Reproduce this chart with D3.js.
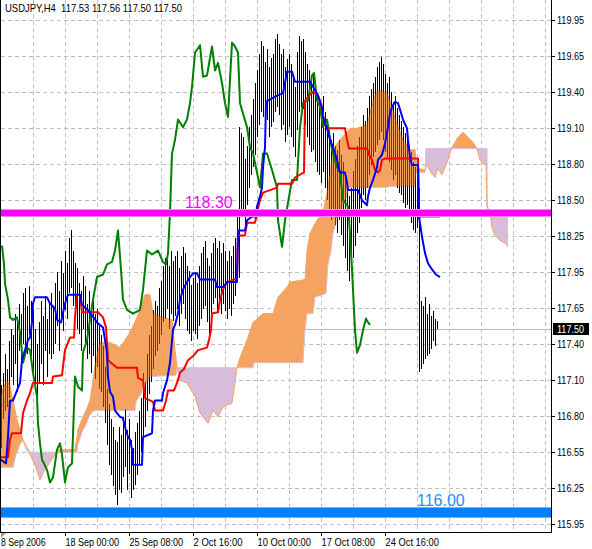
<!DOCTYPE html>
<html><head><meta charset="utf-8">
<script src="https://cdn.jsdelivr.net/npm/d3@7/dist/d3.min.js"></script>
<style>body{margin:0;background:#fff}svg{display:block}</style>
</head><body>
<svg id="c" width="592" height="549"></svg>
<script>
// ---------------- DATA ----------------
const titleText = "USDJPY,H4  117.53 117.56 117.50 117.50";
const yTickLabels = ["119.95","119.65","119.40","119.10","118.80","118.50","118.25","117.95","117.65","117.40","117.10","116.80","116.55","116.25","115.95"];
const xTickLabels = ["8 Sep 2006","18 Sep 00:00","25 Sep 08:00","2 Oct 16:00","10 Oct 00:00","17 Oct 08:00","24 Oct 16:00"];
const xTickBars = [0,32,64,96,128,160,192];
const lastPrice = 117.50;
const levelValues = [118.42, 116.04];
const levelLabels = ["118.30", "116.00"];

const barHigh = [
117.05,117.15,117.30,117.18,117.40,117.50,117.45,117.62,117.55,117.70,
117.62,117.78,117.82,117.68,117.84,117.72,117.66,117.50,117.38,117.55,
117.72,117.60,117.76,117.58,117.70,117.78,117.68,117.86,117.95,117.80,
118.04,117.94,118.12,118.02,118.22,118.28,118.12,118.02,117.98,117.86,
117.80,117.92,117.84,117.70,117.80,117.60,117.72,117.62,117.66,117.52,
117.45,117.36,117.20,117.02,116.90,116.78,116.72,116.62,116.60,116.72,
116.66,116.80,116.86,116.70,116.78,116.62,116.55,116.68,116.75,116.85,
116.95,117.15,117.08,117.30,117.45,117.52,117.65,117.72,117.68,117.82,
117.88,118.00,118.06,118.10,118.00,118.12,118.04,118.08,118.12,117.98,
118.08,118.15,118.10,118.00,117.96,117.85,117.90,117.95,117.86,118.00,
118.10,118.15,118.20,118.06,118.00,118.10,118.18,118.22,118.14,118.20,
118.10,118.18,118.12,118.04,118.12,118.08,118.16,118.22,118.40,119.10,
119.05,119.02,118.85,118.95,119.10,119.20,119.32,119.45,119.55,119.68,
119.78,119.74,119.62,119.72,119.58,119.65,119.68,119.80,119.84,119.76,
119.68,119.72,119.58,119.64,119.68,119.60,119.50,119.42,119.70,119.82,
119.78,119.80,119.70,119.60,119.55,119.48,119.52,119.40,119.35,119.30,
119.28,119.35,119.22,119.15,119.08,119.00,119.05,118.95,118.92,119.00,
118.88,118.82,118.70,118.62,118.55,118.62,118.75,118.85,118.95,119.02,
119.10,119.20,119.15,119.25,119.35,119.40,119.45,119.50,119.58,119.62,
119.66,119.60,119.52,119.45,119.50,119.38,119.30,119.35,119.25,119.20,
119.15,119.10,119.05,119.02,118.95,118.90,118.82,118.78,118.74,118.62,
117.72,117.68,117.75,117.62,117.70,117.60,117.64,117.58,117.56];

const barLow = [
116.55,116.78,116.85,116.88,116.95,117.12,117.05,117.22,117.00,117.32,
117.25,117.38,117.35,117.30,117.45,117.28,117.10,117.05,116.80,117.08,
117.22,117.05,117.32,117.12,117.30,117.26,117.30,117.38,117.52,117.32,
117.55,117.48,117.65,117.58,117.78,117.82,117.68,117.60,117.50,117.46,
117.32,117.50,117.38,117.26,117.30,117.15,117.28,117.10,117.20,117.02,
117.00,116.88,116.75,116.58,116.42,116.34,116.25,116.18,116.10,116.22,
116.20,116.32,116.40,116.22,116.35,116.16,116.22,116.26,116.34,116.42,
116.52,116.65,116.72,116.85,116.98,117.08,117.18,117.28,117.32,117.38,
117.45,117.55,117.58,117.66,117.50,117.62,117.56,117.60,117.66,117.52,
117.62,117.70,117.58,117.48,117.46,117.40,117.48,117.46,117.42,117.52,
117.58,117.66,117.68,117.55,117.46,117.62,117.70,117.74,117.64,117.72,
117.62,117.70,117.64,117.58,117.66,117.60,117.70,117.76,117.88,117.90,
118.40,118.42,118.32,118.48,118.62,118.72,118.78,118.88,119.02,119.12,
119.22,119.18,119.08,119.16,119.02,119.10,119.14,119.22,119.26,119.20,
119.08,119.12,118.98,119.04,119.10,119.02,118.94,118.86,119.08,119.22,
119.26,119.24,119.12,119.02,118.96,118.90,118.92,118.82,118.74,118.72,
118.66,118.74,118.62,118.52,118.44,118.36,118.42,118.32,118.26,118.36,
118.24,118.16,118.06,117.96,117.88,117.96,118.06,118.16,118.26,118.34,
118.46,118.56,118.52,118.62,118.72,118.80,118.86,118.90,118.96,119.00,
119.06,119.00,118.90,118.86,118.82,118.76,118.68,118.72,118.62,118.58,
118.56,118.50,118.46,118.48,118.42,118.34,118.28,118.26,118.30,117.16,
117.18,117.22,117.26,117.28,117.30,117.34,117.40,117.36,117.50];

// [bar index, price]
const tenkan = [[0,116.48],[3.5,116.48],[4.5,116.62],[5.5,116.67],[10,116.67],[11,116.83],[13,116.93],[14.5,116.99],[16,117.07],[25.5,117.07],[26,117.12],[30.5,117.13],[31,117.20],[32,117.33],[34.5,117.43],[36.5,117.43],[37,117.59],[38,117.77],[39.5,117.77],[40.5,117.63],[48.5,117.63],[51,117.59],[52.5,117.51],[53.5,117.25],[58,117.19],[68,117.19],[68.5,117.11],[71,117.09],[72,116.95],[76,116.92],[77,116.85],[81,116.85],[82.5,116.93],[83.5,117.01],[86.5,117.01],[88,117.07],[89.5,117.15],[91.5,117.18],[93.5,117.25],[96.5,117.29],[98.5,117.33],[103,117.35],[104,117.41],[105,117.49],[105.5,117.62],[108.5,117.63],[109.5,117.73],[111,117.81],[113,117.87],[118,117.90],[118.5,118.24],[122,118.24],[123,118.34],[127,118.34],[128,118.42],[129.5,118.52],[131,118.58],[138,118.62],[138.5,118.65],[145.5,118.65],[147,118.70],[151.5,118.74],[152,119.31],[153.5,119.34],[156,119.38],[158.5,119.35],[160.5,119.24],[162,119.12],[163,119.09],[172,119.09],[173,119.00],[174,118.93],[183,118.93],[184,118.88],[185.5,118.84],[187,118.76],[188.5,118.74],[189.5,118.76],[190.5,118.84],[192,118.85],[208.5,118.85],[209,118.39],[219.5,118.39]];

const kijun = [[0,116.46],[2.5,116.43],[3.5,116.64],[4.5,116.93],[6,116.93],[8,117.01],[9.5,117.07],[10.5,117.25],[12,117.33],[13.5,117.41],[14.5,117.43],[15.5,117.55],[16,117.70],[17,117.75],[23,117.75],[24.5,117.70],[27,117.66],[28,117.57],[30,117.55],[32,117.70],[33.5,117.77],[39.5,117.77],[40.5,117.69],[44.5,117.63],[48,117.55],[51,117.51],[53,117.31],[53.5,117.12],[54.5,117.00],[56,116.96],[57,116.85],[59.5,116.80],[61,116.79],[62,116.72],[63.5,116.64],[64.5,116.62],[65.5,116.54],[66,116.42],[70.5,116.42],[71,116.64],[75.5,116.67],[76,116.85],[77,116.93],[80.5,116.93],[81,116.99],[83,117.09],[84.5,117.23],[86,117.49],[87,117.53],[88.5,117.62],[89.5,117.73],[91,117.81],[93,117.87],[94.5,117.91],[96,117.94],[98,117.94],[99.5,117.89],[107,117.89],[108,117.83],[111,117.83],[113,117.87],[118,117.87],[118.5,118.28],[122,118.28],[123,118.36],[125.5,118.39],[127.5,118.39],[128,118.47],[129.5,118.55],[130.5,118.62],[131,118.78],[132,118.94],[132.5,119.30],[133.5,119.31],[138,119.35],[141,119.37],[142,119.45],[143,119.54],[145.5,119.54],[147,119.46],[154.5,119.46],[156,119.42],[158.5,119.35],[160.5,119.26],[161,119.18],[163,119.09],[164.5,119.00],[166,118.94],[168,118.84],[169.5,118.74],[172,118.74],[173,118.66],[173.5,118.60],[178.5,118.60],[180.5,118.52],[183,118.48],[183.5,118.55],[184.5,118.62],[186,118.68],[188,118.78],[188.5,118.84],[190.5,118.88],[192,118.97],[193.5,119.10],[194.5,119.21],[195.5,119.26],[197,119.30],[198.5,119.29],[199.5,119.24],[201,119.16],[203,119.09],[203.5,119.00],[204.5,118.86],[205.5,118.80],[208.5,118.80],[209,118.39],[210.5,118.23],[212,118.10],[213.5,118.02],[215.5,117.97],[217.5,117.93],[219.5,117.91]];

const chinkou = [[0.5,118.16],[1.5,118.01],[2,117.86],[3.5,117.73],[4.5,117.59],[6,117.57],[8,117.59],[9.5,117.47],[11,117.23],[13,117.35],[14.5,117.33],[16,117.15],[18,116.96],[18.5,116.75],[19.5,116.59],[20.5,116.46],[21.5,116.43],[23,116.38],[24.5,116.28],[26,116.32],[28,116.54],[29.5,116.59],[30.5,116.50],[32,116.28],[33.5,116.40],[35.5,116.43],[37,117.12],[38.5,117.04],[40.5,117.01],[41,117.31],[43,117.41],[44.5,117.57],[46,117.73],[48,117.91],[51,117.93],[53,118.01],[55.5,118.03],[57,118.12],[58.5,118.28],[60,117.97],[61,117.73],[63,117.65],[66,117.62],[69.5,117.65],[71,117.81],[73,118.12],[75.5,118.09],[78.5,118.12],[81,118.03],[82.5,118.01],[83.5,118.10],[84.5,118.42],[85.5,118.89],[87,119.00],[88.5,119.16],[91,119.10],[93,119.16],[94.5,119.29],[95.5,119.42],[97,119.69],[99.5,119.75],[101,119.50],[103,119.51],[105.5,119.74],[107,119.55],[108.5,119.61],[110.5,119.45],[112,119.29],[113.5,119.18],[115.5,119.77],[117,119.74],[118.5,119.69],[119.5,119.29],[123,119.10],[124.5,118.94],[126,118.89],[128,118.74],[129.5,118.62],[131,118.89],[133,118.89],[135.5,118.76],[138,118.62],[138.5,118.36],[140.5,118.15],[142,118.36],[143.5,118.50],[145.5,118.68],[148,118.68],[149.5,119.10],[151,119.29],[153.5,119.31],[155.5,119.51],[156.5,119.53],[158,119.31],[159.5,119.26],[161,119.10],[163,119.16],[165.5,118.92],[168,118.78],[169.5,118.74],[171,118.52],[173.5,118.47],[174.5,118.26],[175.5,117.97],[177,117.49],[178,117.31],[179.5,117.37],[181,117.49],[182.5,117.58],[183.5,117.55],[184.5,117.53]];

const spanA = [[0,116.97],[1.5,117.05],[3,117.09],[4.5,117.05],[6,116.93],[8,116.78],[9.5,116.70],[11,116.62],[12.5,116.55],[14.5,116.50],[17,116.42],[19.5,116.30],[22,116.38],[24.5,116.44],[27,116.50],[28,116.54],[37,116.54],[38.5,116.70],[40.5,116.78],[42.5,116.85],[44.5,116.93],[46,117.09],[47,117.21],[48.5,117.33],[49.5,117.39],[54.5,117.39],[57,117.37],[59.5,117.35],[62,117.41],[64.5,117.47],[68,117.59],[72,117.77],[74.5,117.77],[76,117.62],[81,117.59],[85.5,117.57],[87,117.33],[88,117.20],[89.5,117.09],[93,117.07],[97,116.96],[99.5,116.83],[102,116.78],[103.5,116.75],[106,116.85],[108.5,116.80],[111,116.88],[115.5,116.91],[117,117.07],[118,117.19],[119.5,117.27],[123,117.41],[126,117.55],[131,117.62],[136,117.62],[138.5,117.75],[143,117.83],[144.5,117.87],[152,117.89],[153,118.12],[154.5,118.26],[158,118.36],[161,118.42],[163,118.58],[164.5,118.74],[166,118.92],[169.5,119.00],[174.5,119.09],[178,119.09],[183,119.12],[186,119.31],[188,119.39],[189.5,119.39],[193,119.37],[195.5,119.26],[198,119.13],[201,119.00],[204.5,118.92],[207,118.92],[208,118.78],[209.5,118.77],[212,118.76],[213,118.80],[215,118.74],[217,118.70],[218.5,118.77],[220.5,118.72],[222,118.78],[223.5,118.84],[225.5,118.94],[228.5,119.02],[231,119.06],[233.5,119.02],[236,118.98],[238,118.93],[239.5,118.84],[241,118.81],[242.5,118.80],[243,118.47],[244.5,118.43],[245.5,118.30],[247,118.24],[249.5,118.20],[252,118.18],[253.5,118.15]];

const spanB = [[0,116.40],[6,116.40],[7.5,116.50],[9.5,116.58],[11,116.62],[13,116.56],[14.5,116.52],[38,116.52],[38.5,116.58],[40.5,116.68],[42.5,116.74],[44.5,116.82],[46.5,116.85],[67,116.85],[67.5,116.92],[69.5,116.97],[72,117.05],[74.5,117.12],[87.5,117.13],[88,117.19],[126,117.19],[126.5,117.23],[151,117.23],[152,117.49],[153,117.62],[156,117.62],[157,117.75],[162.5,117.78],[163.5,118.01],[165,118.12],[166,118.26],[168,118.36],[171,118.47],[173,118.56],[174,118.62],[193.5,118.62],[194,118.63],[207,118.63],[207.5,118.74],[212,118.74],[212.5,118.93],[243,118.93],[243.1,118.44],[253.5,118.43]];

// ---------------- DRAW ----------------
const W = 592, H = 549, PL = 1, PR = 551, PB = 532;
const FONT = "'Liberation Sans', Arial, sans-serif";
const svg = d3.select("#c");
const x = d3.scaleLinear().domain([0, 275]).range([PL, PR]);
const y = d3.scaleLinear().domain([115.95, 119.95]).range([524, 20]);

svg.append("rect").attr("width", W).attr("height", H).attr("fill", "#fff");

const defs = svg.append("defs");
defs.append("clipPath").attr("id", "plot").append("rect")
  .attr("x", PL).attr("y", 0).attr("width", PR - PL).attr("height", PB);
const pat = defs.append("pattern").attr("id", "thistlePat").attr("patternUnits", "userSpaceOnUse")
  .attr("width", 4).attr("height", 4);
pat.append("rect").attr("width", 4).attr("height", 4).attr("fill", "#D8C0D9");
pat.append("rect").attr("x", 0).attr("y", 0).attr("width", 1).attr("height", 1).attr("fill", "#D9A3D9");
pat.append("rect").attr("x", 2).attr("y", 2).attr("width", 1).attr("height", 1).attr("fill", "#D9A3D9");

const aboveArea = d3.area().x(d => x(d[0])).y0(0).y1(d => y(d[1]));
const belowArea = d3.area().x(d => x(d[0])).y0(PB).y1(d => y(d[1]));
defs.append("clipPath").attr("id", "clipAboveB").append("path").attr("d", aboveArea(spanB));
defs.append("clipPath").attr("id", "clipBelowB").append("path").attr("d", belowArea(spanB));
defs.append("clipPath").attr("id", "clipBelowA").append("path").attr("d", belowArea(spanA));

const g = svg.append("g").attr("clip-path", "url(#plot)");

// grid
const nT = yTickLabels.length;
const tTop = parseFloat(yTickLabels[0]), tBot = parseFloat(yTickLabels[nT - 1]);
const tickVals = d3.range(nT).map(k => tTop - k * (tTop - tBot) / (nT - 1));
const grid = g.append("g").attr("stroke", "#C0C0C0").attr("stroke-dasharray", "4,3")
  .attr("shape-rendering", "crispEdges");
grid.selectAll("line.h").data(tickVals).join("line").attr("class", "h")
  .attr("x1", PL).attr("x2", PR)
  .attr("y1", d => Math.round(y(d)) + 0.5).attr("y2", d => Math.round(y(d)) + 0.5);
grid.selectAll("line.v").data(d3.range(16, 276, 16)).join("line").attr("class", "v")
  .attr("x1", d => Math.round(x(d)) + 0.5).attr("x2", d => Math.round(x(d)) + 0.5)
  .attr("y1", 0).attr("y2", PB);

// current price line
g.append("line").attr("x1", PL).attr("x2", PR)
  .attr("y1", Math.round(y(lastPrice)) + 0.5).attr("y2", Math.round(y(lastPrice)) + 0.5)
  .attr("stroke", "#B8B8B8").attr("shape-rendering", "crispEdges");

// cloud
g.append("path").attr("d", belowArea(spanA)).attr("fill", "#F4A460").attr("clip-path", "url(#clipAboveB)");
g.append("path").attr("d", aboveArea(spanA)).attr("fill", "url(#thistlePat)").attr("clip-path", "url(#clipBelowB)");
const ln = d3.line().x(d => x(d[0])).y(d => y(d[1]));
g.append("path").attr("d", ln(spanB)).attr("fill", "none").attr("stroke", "#D8BFD8").attr("stroke-width", 1);
g.append("path").attr("d", ln(spanA)).attr("fill", "none").attr("stroke", "#F4A460").attr("stroke-width", 1);

// bars
function drawBars(parent, color) {
  parent.append("g").attr("stroke", color).attr("shape-rendering", "crispEdges")
    .selectAll("line").data(barHigh).join("line")
    .attr("x1", (d, i) => Math.round(x(i)) + 0.5).attr("x2", (d, i) => Math.round(x(i)) + 0.5)
    .attr("y1", d => y(d)).attr("y2", (d, i) => y(barLow[i]));
}
drawBars(g, "#000");
// bars seen through the sandy cloud take a dark slate tone
drawBars(g.append("g").attr("clip-path", "url(#clipAboveB)").append("g").attr("clip-path", "url(#clipBelowA)"), "#2E4A6A");

// ichimoku lines
[[chinkou, "#008000"], [tenkan, "#FF0000"], [kijun, "#0000FF"]].forEach(([data, col]) => {
  g.append("path").attr("d", ln(data)).attr("fill", "none").attr("stroke", col)
    .attr("stroke-width", 2).attr("stroke-linejoin", "round");
});

// horizontal levels
const levelStyle = [{c: "#FF00FF", edge: "#FF88FF", h: 6, tc: "#FF00FF"}, {c: "#0080FF", edge: "#6CB6FF", h: 9, tc: "#1E90FF"}];
levelValues.forEach((v, k) => {
  const s = levelStyle[k], yc = y(v);
  g.append("rect").attr("x", PL).attr("width", PR - PL).attr("y", Math.round(yc - s.h / 2) - 1).attr("height", s.h + 2).attr("fill", s.edge);
  g.append("rect").attr("x", PL).attr("width", PR - PL).attr("y", Math.round(yc - s.h / 2)).attr("height", s.h).attr("fill", s.c);
});
const lvlLabelX = [185, 417];
levelLabels.forEach((t, k) => {
  const s = levelStyle[k], yc = y(levelValues[k]);
  g.append("text").attr("x", lvlLabelX[k]).attr("y", Math.round(yc - s.h / 2) - 2)
    .attr("font-family", FONT).attr("font-size", 16).attr("fill", s.tc).text(t);
});

// frame
const frame = svg.append("g").attr("stroke", "#000").attr("shape-rendering", "crispEdges");
frame.append("line").attr("x1", 0.5).attr("x2", 0.5).attr("y1", 0).attr("y2", PB + 0.5);
frame.append("line").attr("x1", PR + 0.5).attr("x2", PR + 0.5).attr("y1", 0).attr("y2", PB + 0.5);
frame.append("line").attr("x1", 0).attr("x2", PR + 1).attr("y1", PB + 0.5).attr("y2", PB + 0.5);

// y axis
tickVals.forEach((v, k) => {
  const yy = Math.round(y(v)) + 0.5;
  frame.append("line").attr("x1", PR).attr("x2", PR + 4).attr("y1", yy).attr("y2", yy);
  svg.append("text").attr("x", 557).attr("y", yy + 3.5).attr("font-family", FONT).attr("font-size", 10)
    .attr("textLength", yTickLabels[k].length * 4.5).attr("lengthAdjust", "spacingAndGlyphs")
    .attr("fill", "#000").text(yTickLabels[k]);
});
// last price box
const ly = Math.round(y(lastPrice));
svg.append("rect").attr("x", 553).attr("y", ly - 6).attr("width", 36).attr("height", 12).attr("fill", "#000");
svg.append("text").attr("x", 557).attr("y", ly + 4).attr("font-family", FONT).attr("font-size", 10)
  .attr("textLength", 27).attr("lengthAdjust", "spacingAndGlyphs").attr("fill", "#fff").text(lastPrice.toFixed(2));

// x axis
xTickBars.forEach((b, k) => {
  const xx = Math.round(x(b)) + 0.5;
  frame.append("line").attr("x1", xx).attr("x2", xx).attr("y1", PB).attr("y2", PB + 4);
  svg.append("text").attr("x", xx + (k === 0 ? -0.5 : 0)).attr("y", 546).attr("font-family", FONT).attr("font-size", 10)
    .attr("textLength", xTickLabels[k].length * 4.45).attr("lengthAdjust", "spacingAndGlyphs")
    .attr("fill", "#000").text(xTickLabels[k]);
});
svg.append("path").attr("d", "M1,533L6,533L1,538Z").attr("fill", "#A0A0A0");

// title
svg.append("text").attr("x", 5).attr("y", 12).attr("font-family", FONT).attr("font-size", 11)
  .attr("textLength", 177).attr("lengthAdjust", "spacingAndGlyphs").attr("fill", "#000")
  .attr("xml:space", "preserve").style("white-space", "pre").text(titleText);
</script>
</body></html>
